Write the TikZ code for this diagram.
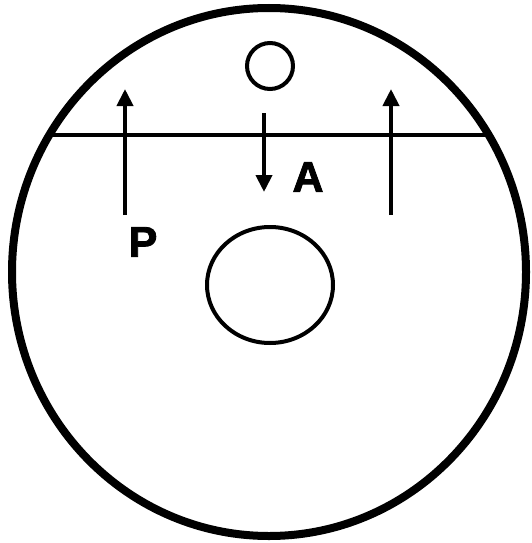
\documentclass[tikz,border=0pt]{standalone}
\usepackage{fontspec}
\setmainfont{Liberation Sans}
\newfontfamily\lourd[BoldFeatures={FakeBold=2}]{Liberation Sans}
\usetikzlibrary{arrows.meta}
\begin{document}
\begin{tikzpicture}[x=1pt,y=-1pt,line width=4pt,
fleche/.style={-{Triangle[width=16pt,length=17pt]}},
lettre/.style={font=\lourd\fontsize{43}{43}\selectfont\bfseries}]
\useasboundingbox (0,0) rectangle (532,543);

% Cellule
\draw[line width=8pt] (269,272) ellipse (257 and 264);
\draw (270,66) circle (23);
\draw (270,285) ellipse (63 and 58);

% Plan
\coordinate (g) at (49,135);
\coordinate (d) at (489,135);
\draw (g) -- (d);

% Fleches
\foreach \x/\nom in {
125/gauche,
391/droite
}
{
\coordinate (\nom-bas) at (\x,215);
\coordinate (\nom-haut) at (\x,89);
\draw[fleche] (\nom-bas) -- (\nom-haut);
}

\coordinate (m-haut) at (264,113);
\coordinate (m-bas) at (264,192);
\draw[fleche] (m-haut) -- (m-bas);

\node[lettre] (A) at (308,177) {A};
\node[lettre] (P) at (143,242) {P};

\end{tikzpicture}
\end{document}
